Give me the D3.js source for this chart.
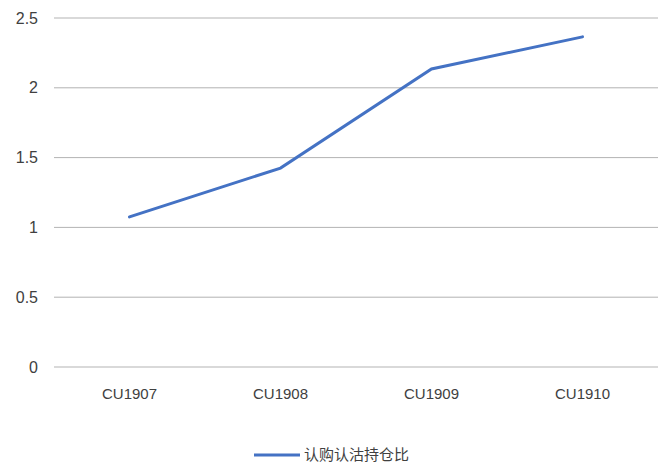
<!DOCTYPE html>
<html><head><meta charset="utf-8">
<script src="https://cdn.jsdelivr.net/npm/d3@7"></script>
<style>body{margin:0;background:#fff;} text{font-family:"Liberation Sans Narrow","Liberation Sans",Arial,sans-serif;fill:#404040;}</style>
</head><body>
<svg id="c" width="662" height="467"></svg>
<script>
const categories = ["CU1907","CU1908","CU1909","CU1910"];
const values = [1.075, 1.425, 2.135, 2.365];
const yTicks = [0,0.5,1,1.5,2,2.5];
const seriesName = "认购认沽持仓比";

const svg = d3.select("#c");
const m = {left:54, right:4, top:18, bottom:100};
const W = 662, H = 467;
const x = d3.scaleBand().domain(categories).range([m.left, W-m.right]);
const y = d3.scaleLinear().domain([0,2.5]).range([367,18]);

svg.append("g").selectAll("line").data(yTicks).join("line")
  .attr("x1", m.left).attr("x2", W-m.right)
  .attr("y1", d=>y(d)).attr("y2", d=>y(d))
  .attr("stroke","#b3b3b3").attr("stroke-width",1);

svg.append("g").selectAll("text").data(yTicks).join("text")
  .attr("x", 38).attr("y", d=>y(d)).attr("dy","0.35em")
  .attr("text-anchor","end").attr("font-size",16).text(d=>d);

svg.append("g").selectAll("text").data(categories).join("text")
  .attr("x", d=>x(d)+x.bandwidth()/2).attr("y", 394).attr("dy","0.35em")
  .attr("text-anchor","middle").attr("font-size",15).text(d=>d);

const line = d3.line().x((d,i)=>x(categories[i])+x.bandwidth()/2).y(d=>y(d));
svg.append("path").datum(values).attr("d", line)
  .attr("fill","none").attr("stroke","#4472C4").attr("stroke-width",3).attr("stroke-linecap","round");

svg.append("line").attr("x1",254).attr("x2",300).attr("y1",455).attr("y2",455)
  .attr("stroke","#4472C4").attr("stroke-width",3);
svg.append("text").attr("x",304).attr("y",455).attr("dy","0.35em")
  .attr("font-size",15).style("font-family","'Noto Sans CJK SC',sans-serif").text(seriesName);
</script>
</body></html>
